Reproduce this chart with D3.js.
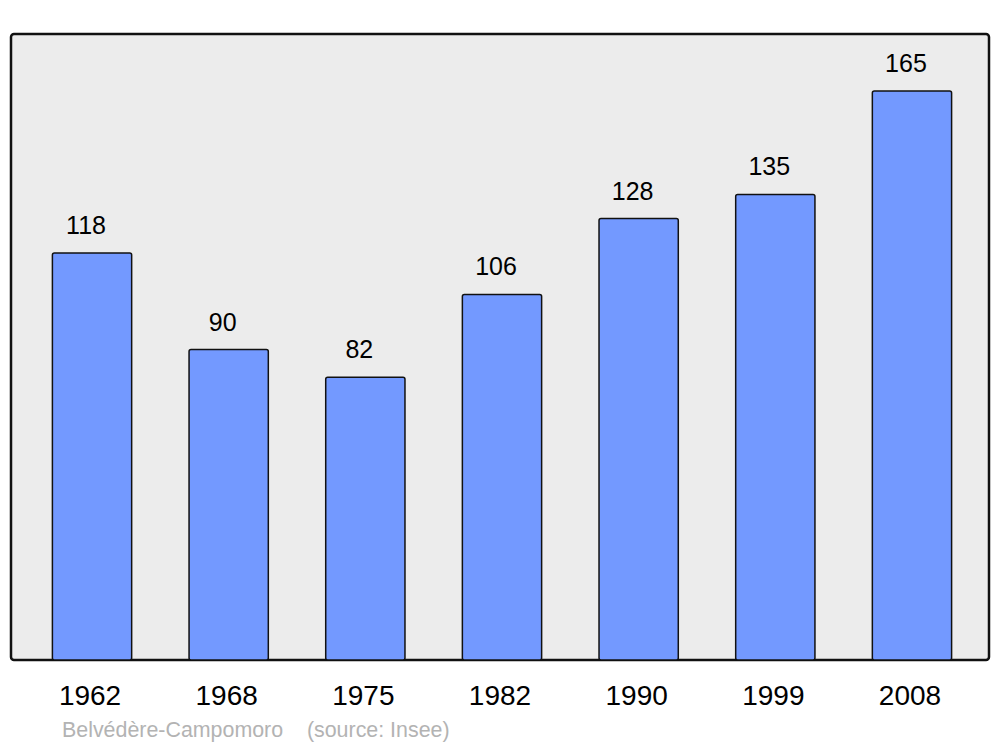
<!DOCTYPE html>
<html><head><meta charset="utf-8">
<script src="https://cdn.jsdelivr.net/npm/d3@7"></script>
<style>html,body{margin:0;padding:0;background:#fff}svg{display:block}</style>
</head><body>
<script>
const years = ["1962","1968","1975","1982","1990","1999","2008"];
const population = [118, 90, 82, 106, 128, 135, 165];
const title = "Belvédère-Campomoro";
const source = "(source: Insee)";

const W = 1000, H = 747;
const frame = {x0: 11, y0: 34, x1: 989, y1: 660};
const svg = d3.select("body").append("svg").attr("width", W).attr("height", H);

const x = d3.scaleBand().domain(years).range([23.7, 980.3]).paddingInner(0.42).paddingOuter(0.21);
const y = d3.scaleLinear().domain([0, d3.max(population) * 1.1]).range([frame.y1, frame.y0]);

svg.append("rect").attr("x", frame.x0).attr("y", frame.y0)
  .attr("width", frame.x1 - frame.x0).attr("height", frame.y1 - frame.y0)
  .attr("rx", 3).attr("fill", "#ececec").attr("stroke", "#111").attr("stroke-width", 2.5);

const data = years.map((yr, i) => ({yr, v: population[i]}));

svg.append("g").selectAll("rect").data(data).join("rect")
  .attr("x", d => x(d.yr)).attr("width", x.bandwidth())
  .attr("y", d => y(d.v)).attr("height", d => y(0) - y(d.v))
  .attr("rx", 2).attr("fill", "#7399ff").attr("stroke", "#111").attr("stroke-width", 1.5);

svg.append("g").selectAll("text").data(data).join("text")
  .attr("x", d => x(d.yr) + x.bandwidth() / 2 - 6)
  .attr("y", d => y(d.v) - 19)
  .attr("text-anchor", "middle")
  .attr("font-family", "Liberation Sans, Arial, sans-serif").attr("font-size", 25)
  .attr("fill", "#000").text(d => d.v);

const axis = d3.axisBottom(x).tickSize(0).tickPadding(0);
const ga = svg.append("g").attr("transform", `translate(-2,${frame.y1})`).call(axis);
ga.select(".domain").remove();
ga.selectAll("text").attr("dy", null).attr("y", 44.5)
  .attr("font-family", "Liberation Sans, Arial, sans-serif").attr("font-size", 28).attr("fill", "#000");

svg.append("text").attr("x", 62).attr("y", 737)
  .attr("font-family", "Liberation Sans, Arial, sans-serif").attr("font-size", 21.4)
  .attr("fill", "#b3b3b3").attr("xml:space", "preserve")
  .text(title + "    " + source);
</script>
</body></html>
